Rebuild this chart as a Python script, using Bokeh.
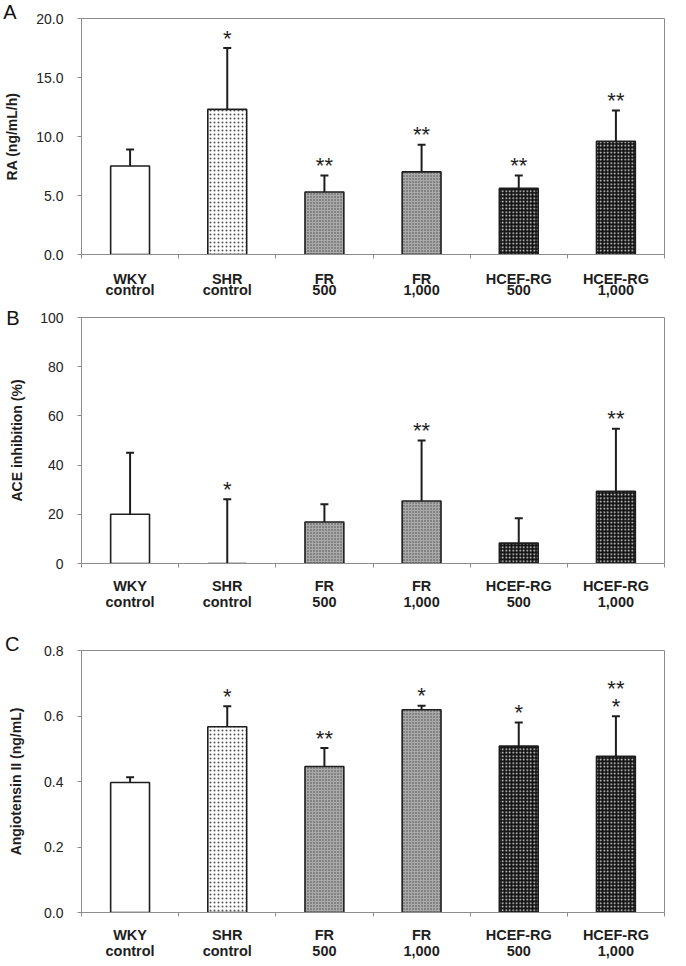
from bokeh.plotting import figure
from bokeh.models import (Range1d, FixedTicker, Whisker, TeeHead, ColumnDataSource,
                          LinearAxis, NumeralTickFormatter)
from bokeh.layouts import column
from bokeh.embed import file_html
from bokeh.resources import INLINE
from bokeh.core.properties import value

# ---------------- data ----------------
groups = ["WKY\ncontrol", "SHR\ncontrol", "FR\n500", "FR\n1,000", "HCEF-RG\n500", "HCEF-RG\n1,000"]

ra_mean = [7.5, 12.3, 5.3, 7.0, 5.6, 9.6]
ra_sd = [1.4, 5.2, 1.4, 2.3, 1.1, 2.6]
ra_sig = ["", "*", "**", "**", "**", "**"]
ra_sig2 = ["", "", "", "", "", ""]
ra_ticks = [0, 5, 10, 15, 20]

ace_mean = [20.0, 0.0, 16.9, 25.4, 8.3, 29.4]
ace_sd = [25.0, 26.1, 7.2, 24.6, 10.1, 25.4]
ace_sig = ["", "*", "", "**", "", "**"]
ace_sig2 = ["", "", "", "", "", ""]
ace_ticks = [0, 20, 40, 60, 80, 100]

ang_mean = [0.397, 0.567, 0.446, 0.619, 0.508, 0.477]
ang_sd = [0.016, 0.063, 0.056, 0.012, 0.072, 0.122]
ang_sig = ["", "*", "**", "*", "*", "*"]
ang_sig2 = ["", "", "", "", "", "**"]
ang_ticks = [0, 0.2, 0.4, 0.6, 0.8]

# ---------------- styles ----------------
fills = ["white", "white", "#a9a9a9", "#a9a9a9", "#141414", "#141414"]
hatches = ["blank", "dot", "dot", "dot", "dot", "dot"]
hatch_colors = ["black", "#555555", "#4a4a4a", "#4a4a4a", "#e8e8e8", "#e8e8e8"]
hatch_scales = [4, 4, 3, 3, 3.5, 3.5]
hatch_weights = [1, 1, 1, 1, 1, 1]

FONT = "Liberation Sans"
GRAY = "#8c8c8c"
INK = "#1e1e1e"


def make_panel(letter, ylabel, means, sds, sig, sig2, ticks, fmt, height,
               bl, br, bt, bb, ylab_standoff, lab_standoff, line_h,
               letter_standoff, letter_raise):
    xs = [i + 0.5 for i in range(len(groups))]
    upper = [m + s for m, s in zip(means, sds)]
    src = ColumnDataSource(dict(x=xs, top=means, upper=upper, sig=sig, sig2=sig2,
                                fill=fills, hatch=hatches, hcol=hatch_colors,
                                hscale=hatch_scales, hw=hatch_weights))
    p = figure(width=686, height=height, output_backend="svg", toolbar_location=None,
               x_range=Range1d(0, len(groups)), y_range=Range1d(ticks[0], ticks[-1]),
               min_border_left=bl, min_border_right=br, min_border_top=bt,
               min_border_bottom=bb)
    p.background_fill_color = "white"
    p.border_fill_color = "white"
    p.outline_line_color = GRAY
    p.outline_line_width = 1
    p.xgrid.visible = False
    p.ygrid.visible = False

    p.vbar(x="x", top="top", bottom=0, width=0.4, source=src,
           fill_color="fill", line_color=INK, line_width=1.6,
           hatch_pattern="hatch", hatch_color="hcol", hatch_scale="hscale",
           hatch_weight="hw")

    wh = Whisker(base="x", lower="top", upper="upper", source=src, dimension="height",
                 line_color=INK, line_width=2,
                 upper_head=TeeHead(size=8, line_color=INK, line_width=2),
                 lower_head=None, level="glyph")
    p.add_layout(wh)

    p.text(x="x", y="upper", text="sig", source=src, text_font=value(FONT),
           text_font_size="22px", text_align="center", text_baseline="alphabetic",
           y_offset=-10, text_color=INK)
    p.text(x="x", y="upper", text="sig2", source=src, text_font=value(FONT),
           text_font_size="22px", text_align="center", text_baseline="alphabetic",
           y_offset=-28, text_color=INK)

    # x axis
    xa = p.xaxis[0]
    xa.ticker = FixedTicker(ticks=xs, minor_ticks=list(range(len(groups) + 1)))
    xa.major_label_overrides = {x: g for x, g in zip(xs, groups)}
    xa.major_tick_line_color = None
    xa.major_tick_out = 0
    xa.major_tick_in = 0
    xa.minor_tick_line_color = GRAY
    xa.minor_tick_out = 4
    xa.minor_tick_in = 0
    xa.axis_line_color = GRAY
    xa.major_label_text_font = FONT
    xa.major_label_text_font_style = "bold"
    xa.major_label_text_font_size = "14.5px"
    xa.major_label_text_color = INK
    xa.major_label_text_line_height = line_h
    xa.major_label_standoff = lab_standoff

    # y axis
    ya = p.yaxis[0]
    ya.ticker = FixedTicker(ticks=ticks, minor_ticks=[])
    ya.formatter = NumeralTickFormatter(format=fmt)
    ya.axis_line_color = GRAY
    ya.major_tick_line_color = GRAY
    ya.major_tick_out = 4
    ya.major_tick_in = 0
    ya.minor_tick_line_color = None
    ya.major_label_text_font = FONT
    ya.major_label_text_font_size = "14px"
    ya.major_label_text_color = "#222222"
    ya.major_label_standoff = 14
    ya.axis_label = ylabel
    ya.axis_label_text_font = FONT
    ya.axis_label_text_font_style = "bold"
    ya.axis_label_text_font_size = "14px"
    ya.axis_label_text_color = INK
    ya.axis_label_standoff = ylab_standoff

    # panel letter as an outer axis label at the top of the y range
    # (an empty second line lifts the letter a little above the frame's top edge)
    text = letter + ("\n " if letter_raise else "")
    la = LinearAxis(ticker=FixedTicker(ticks=[ticks[-1]], minor_ticks=[]),
                    major_label_overrides={ticks[-1]: text})
    la.axis_line_color = None
    la.major_tick_line_color = None
    la.minor_tick_line_color = None
    la.major_tick_out = 0
    la.major_tick_in = 0
    la.major_label_text_font = FONT
    la.major_label_text_font_size = "20px"
    la.major_label_text_color = "#111111"
    la.major_label_text_line_height = 0.6
    la.major_label_standoff = letter_standoff
    p.add_layout(la, "left")
    return p


pA = make_panel("A", "RA (ng/mL/h)", ra_mean, ra_sd, ra_sig, ra_sig2, ra_ticks, "0.0",
                300, 76, 15, 18, 46, 13, 12, 0.7, -15, True)
pB = make_panel("B", "ACE inhibition (%)", ace_mean, ace_sd, ace_sig, ace_sig2, ace_ticks, "0",
                328, 73, 15, 17, 65, 12, 10, 1.0, -13, False)
pC = make_panel("C", "Angiotensin II (ng/mL)", ang_mean, ang_sd, ang_sig, ang_sig2, ang_ticks, "0.0",
                338, 72, 22, 22, 54, 17, 10, 1.0, -14, True)

layout = column(pA, pB, pC, spacing=0)
open("out.html", "w").write(file_html(layout, INLINE))
